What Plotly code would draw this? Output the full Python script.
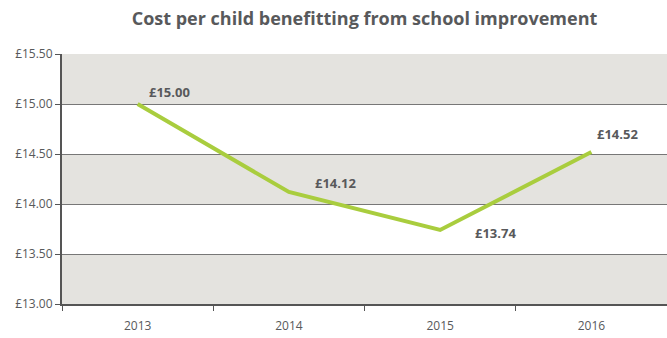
import plotly.graph_objects as go

years = ["2013", "2014", "2015", "2016"]
costs = [15.00, 14.12, 13.74, 14.52]
y_ticks = [13.0, 13.5, 14.0, 14.5, 15.0, 15.5]
label_shift_x = [32, 47, 55, 26]
label_shift_y = [12, 9, -3, 18]

FONT = "'Open Sans', sans-serif"
GREY_TXT = "#58595b"

fig = go.Figure()
fig.add_trace(go.Scatter(
    x=years, y=costs, mode="lines",
    line=dict(color="#a9cd3e", width=4),
    hoverinfo="skip", showlegend=False,
))

shapes = []
for i in range(len(y_ticks) - 1):
    if i % 2 == 0:
        shapes.append(dict(type="rect", xref="paper", yref="y", x0=0, x1=1,
                           y0=y_ticks[i], y1=y_ticks[i + 1],
                           fillcolor="#e4e3df", line=dict(width=0), layer="below"))

annotations = []
for idx, (v, dx, dy) in enumerate(zip(costs, label_shift_x, label_shift_y)):
    annotations.append(dict(x=idx, y=v, xref="x", yref="y", text=f"<b>£{v:.2f}</b>",
                            showarrow=False, xshift=dx, yshift=dy,
                            font=dict(family=FONT, size=13, color=GREY_TXT)))

fig.update_layout(
    width=667, height=338,
    margin=dict(l=62, r=0, t=54, b=34),
    paper_bgcolor="white", plot_bgcolor="white",
    title=dict(text="<b>Cost per child benefitting from school improvement</b>",
               x=(62 + 667) / 2 / 667, xanchor="center", y=1 - 19 / 338, yanchor="middle",
               font=dict(family=FONT, size=18, color=GREY_TXT)),
    shapes=shapes,
    annotations=annotations,
    xaxis=dict(type="category", range=[-0.5, 3.5], tickson="boundaries",
               ticks="outside", ticklen=5, tickcolor="#555", showgrid=False,
               showline=True, linecolor="#555", linewidth=2, ticklabelstandoff=10,
               tickfont=dict(family=FONT, size=12, color=GREY_TXT), fixedrange=True),
    yaxis=dict(range=[13.0, 15.5], tickvals=y_ticks,
               ticktext=[f"£{t:.2f}" for t in y_ticks],
               ticks="outside", ticklen=5, tickcolor="#555",
               showgrid=True, gridcolor="#777", gridwidth=1, zeroline=False,
               showline=True, linecolor="#555", linewidth=2,
               tickfont=dict(family=FONT, size=12, color=GREY_TXT), fixedrange=True),
)

fig.write_html("out.html")
